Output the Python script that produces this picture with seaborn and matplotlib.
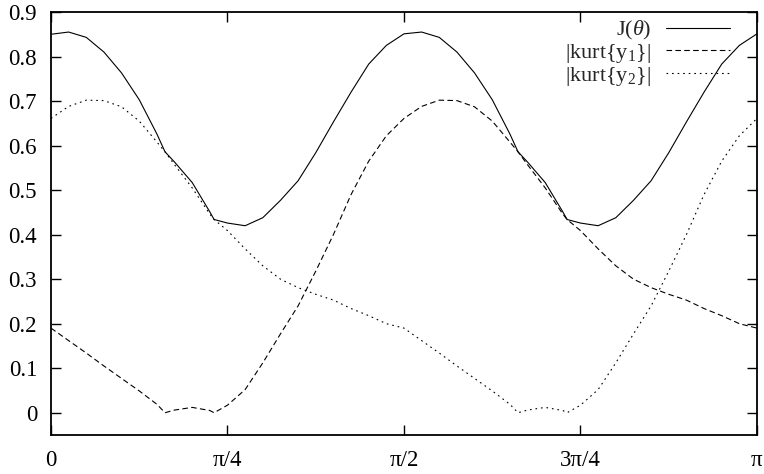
import numpy as np
import pandas as pd
import seaborn as sns
import matplotlib
matplotlib.use("Agg")
import matplotlib.pyplot as plt

# theta positions, in units of pi
t_pi = [0, .025, .05, .075, .1, .125, .15, .1615, .175, .2, .225, .231, .25,
        .275, .3, .325, .35, .375, .4, .425, .45, .475, .5,
        .525, .55, .575, .6, .625, .65, .6615, .675, .7, .725, .731, .75,
        .775, .8, .825, .85, .875, .9, .925, .95, .975, 1.0]

kurt_y1 = [.190, .162, .134, .105, .077, .049, .019, .000, .006, .012, .005, .000, .017,
           .052, .112, .177, .240, .318, .400, .490, .565, .622, .661,
           .688, .702, .701, .687, .655, .608, .586, .557, .505, .446, .434, .409,
           .368, .330, .300, .281, .266, .253, .234, .218, .200, .190]

kurt_y2 = [.661, .688, .702, .701, .687, .655, .608, .586, .557, .505, .446, .434, .409,
           .368, .330, .300, .281, .266, .253, .234, .218, .200, .190,
           .162, .134, .105, .077, .049, .019, .000, .006, .012, .005, .000, .017,
           .052, .112, .177, .240, .318, .400, .490, .565, .622, .661]

J = [.850, .855, .843, .810, .763, .703, .626, .586, .563, .517, .451, .434, .426,
     .420, .438, .477, .521, .584, .653, .720, .783, .825, .851,
     .855, .843, .810, .763, .703, .626, .586, .563, .517, .451, .434, .426,
     .420, .438, .477, .521, .584, .653, .720, .783, .825, .851]

xtick_pos = [0, .25, .5, .75, 1.0]
xtick_labels = ["0", "π/4", "π/2", "3π/4", "π"]
ytick_pos = [0, .1, .2, .3, .4, .5, .6, .7, .8, .9]

sns.set_style("ticks")
plt.rcParams["font.family"] = ["Liberation Serif", "DejaVu Serif"]
plt.rcParams["mathtext.fontset"] = "custom"
plt.rcParams["mathtext.rm"] = "Liberation Serif"
plt.rcParams["mathtext.it"] = "Liberation Serif:italic"

df = pd.DataFrame({"theta": np.array(t_pi) * np.pi, "J": J,
                   "k1": kurt_y1, "k2": kurt_y2})

fig = plt.figure(figsize=(7.64, 4.74), dpi=100)
ax = fig.add_axes([51 / 764, 39 / 474, 706 / 764, 423 / 474])

sns.lineplot(data=df, x="theta", y="J", ax=ax, color="black", lw=0.8,
             label=r"J($\theta$)")
sns.lineplot(data=df, x="theta", y="k1", ax=ax, color="black", lw=0.8,
             linestyle=(0, (5, 3)), label=r"|kurt{y$_1$}|")
sns.lineplot(data=df, x="theta", y="k2", ax=ax, color="black", lw=0.8,
             linestyle=(0, (1.5, 3.5)), label=r"|kurt{y$_2$}|")

ax.set_xlim(0, np.pi)
ax.set_ylim(-0.05, 0.9)
ax.set_xticks(np.array(xtick_pos) * np.pi)
ax.set_xticklabels(xtick_labels)
ax.set_yticks(ytick_pos)
ax.set_yticklabels(["0"] + [f"{v:.1f}" for v in ytick_pos[1:]])
ax.set_xlabel("")
ax.set_ylabel("")
ax.tick_params(direction="in", top=True, right=True, length=7, width=1,
               labelsize=16.5, colors="black")
ax.tick_params(axis="x", pad=11)
ax.tick_params(axis="y", pad=10)
for s in ax.spines.values():
    s.set_linewidth(1.3)
    s.set_color("black")

ax.legend(loc="upper right", bbox_to_anchor=((730 - 51) / 706, (435 - 19) / 423),
          frameon=False, markerfirst=False, fontsize=16, handlelength=2.9,
          handletextpad=0.65, labelspacing=0.0, borderpad=0, borderaxespad=0)

fig.savefig("out.png", dpi=100)
